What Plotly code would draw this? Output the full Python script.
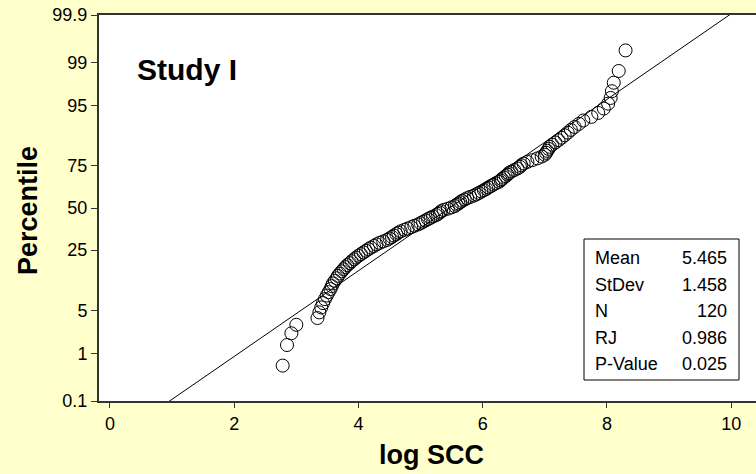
import plotly.graph_objects as go
from statistics import NormalDist

# Sorted log SCC observations (n = 120)
log_scc = [
    2.78, 2.85, 2.92, 3.00, 3.34, 3.37, 3.40, 3.43, 3.46, 3.49,
    3.52, 3.55, 3.57, 3.59, 3.62, 3.65, 3.67, 3.70, 3.73, 3.76,
    3.79, 3.82, 3.86, 3.89, 3.93, 3.96, 4.00, 4.04, 4.08, 4.12,
    4.16, 4.20, 4.25, 4.29, 4.34, 4.40, 4.46, 4.50, 4.54, 4.57,
    4.61, 4.64, 4.68, 4.74, 4.79, 4.85, 4.90, 4.96, 5.00, 5.04,
    5.08, 5.12, 5.16, 5.20, 5.25, 5.28, 5.31, 5.33, 5.37, 5.44,
    5.50, 5.55, 5.58, 5.61, 5.64, 5.67, 5.71, 5.75, 5.80, 5.86,
    5.90, 5.94, 5.98, 6.02, 6.06, 6.09, 6.13, 6.17, 6.21, 6.26,
    6.29, 6.31, 6.34, 6.37, 6.40, 6.42, 6.46, 6.51, 6.56, 6.60,
    6.62, 6.66, 6.72, 6.80, 6.88, 6.95, 7.00, 7.02, 7.04, 7.06,
    7.08, 7.12, 7.17, 7.22, 7.27, 7.32, 7.37, 7.42, 7.48, 7.55,
    7.62, 7.75, 7.86, 7.95, 8.02, 8.06, 8.08, 8.11, 8.19, 8.30,
]

# Summary statistics of the normal fit
stat_names = ["Mean", "StDev", "N", "RJ", "P-Value"]
stat_values = ["5.465", "1.458", "120", "0.986", "0.025"]
fit_mean = 5.465
fit_sd = 1.458

# Probability-scale ticks (percent)
pct_ticks = [0.1, 1, 5, 25, 50, 75, 95, 99, 99.9]
pct_labels = ["0.1", "1", "5", "25", "50", "75", "95", "99", "99.9"]
x_ticks = [0, 2, 4, 6, 8, 10]

nd = NormalDist()
n = len(log_scc)
# Median-rank (Benard) plotting positions, expressed as normal scores
scores = [nd.inv_cdf((i - 0.3) / (n + 0.4)) for i in range(1, n + 1)]
tick_scores = [nd.inv_cdf(p / 100.0) for p in pct_ticks]

x_min, x_max = -0.177, 10.40
line_x = [x_min, x_max]
line_z = [(v - fit_mean) / fit_sd for v in line_x]

FONT = "Arial, Liberation Sans, sans-serif"

fig = go.Figure()
fig.add_trace(go.Scatter(
    x=line_x, y=line_z, mode="lines",
    line=dict(color="black", width=1), hoverinfo="skip", showlegend=False,
))
fig.add_trace(go.Scatter(
    x=log_scc, y=scores, mode="markers",
    marker=dict(symbol="circle-open", size=13, color="black",
                line=dict(width=1, color="black")),
    showlegend=False,
))

fig.update_layout(
    width=756, height=474,
    margin=dict(l=99, r=0, t=15, b=73),
    paper_bgcolor="#FFFFCC",
    plot_bgcolor="white",
    font=dict(family=FONT, color="black", size=18),
    showlegend=False,
)
fig.update_xaxes(
    range=[x_min, x_max], tickvals=x_ticks,
    ticks="outside", ticklen=5, tickwidth=1, tickcolor="#333",
    showline=True, linecolor="#333", linewidth=2, mirror=True,
    showgrid=False, zeroline=False,
    tickfont=dict(size=18),
)
fig.update_yaxes(
    range=[tick_scores[0], tick_scores[-1]],
    tickvals=tick_scores, ticktext=pct_labels,
    ticks="outside", ticklen=6, tickwidth=1, tickcolor="#333",
    showline=True, linecolor="#333", linewidth=2, mirror=False,
    showgrid=False, zeroline=False,
    tickfont=dict(size=18),
)

# Axis titles
fig.add_annotation(text="<b>log SCC</b>", xref="paper", yref="paper",
                   x=(431 - 99) / 657, y=-(455 - 401) / 386,
                   showarrow=False, font=dict(size=27),
                   xanchor="center", yanchor="middle")
fig.add_annotation(text="<b>Percentile</b>", xref="paper", yref="paper",
                   x=-(99 - 28) / 657, y=(401 - 211) / 386, textangle=-90,
                   showarrow=False, font=dict(size=27),
                   xanchor="center", yanchor="middle")

# Panel label
fig.add_annotation(text="<b>Study I</b>", xref="paper", yref="paper",
                   x=(135 - 99) / 657, y=(401 - 70) / 386,
                   showarrow=False, font=dict(size=30),
                   xanchor="left", yanchor="middle")

# Statistics box
box_x0, box_x1 = (584 - 99) / 657, (739 - 99) / 657
box_y0, box_y1 = (401 - 380) / 386, (401 - 239) / 386
fig.add_shape(type="rect", xref="paper", yref="paper",
              x0=box_x0, x1=box_x1, y0=box_y0, y1=box_y1,
              line=dict(color="black", width=1), fillcolor="white")
row_y = [258, 285, 311, 338, 364]
for name, val, ry in zip(stat_names, stat_values, row_y):
    yy = (401 - ry) / 386
    fig.add_annotation(text=name, xref="paper", yref="paper",
                       x=(593 - 99) / 657, y=yy, showarrow=False,
                       xanchor="left", yanchor="middle", font=dict(size=18))
    fig.add_annotation(text=val, xref="paper", yref="paper",
                       x=(729 - 99) / 657, y=yy, showarrow=False,
                       xanchor="right", yanchor="middle", font=dict(size=18))

fig.write_html("out.html")
